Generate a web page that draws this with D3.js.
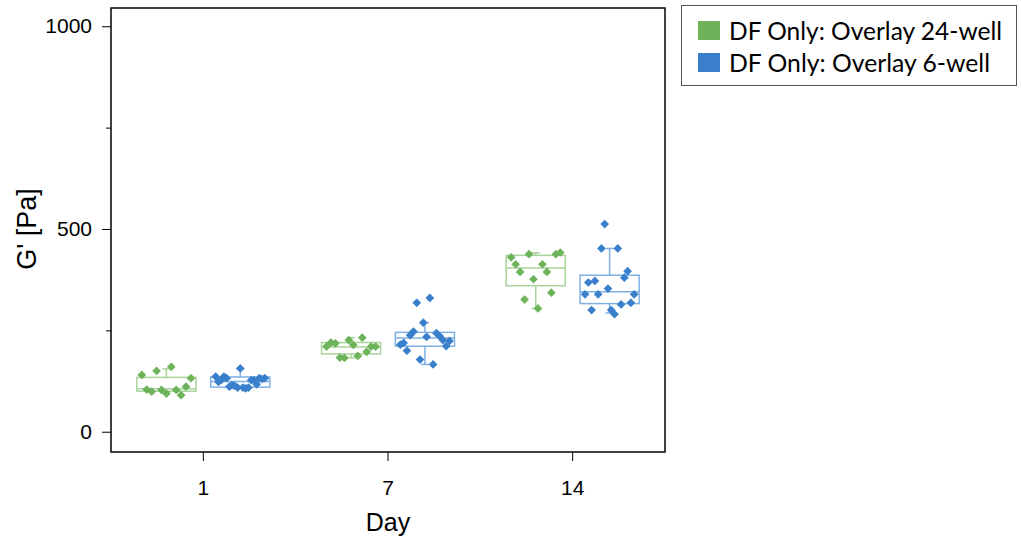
<!DOCTYPE html>
<html>
<head>
<meta charset="utf-8">
<script src="https://cdn.jsdelivr.net/npm/d3@7"></script>
<style>
  body { margin: 0; background: #fff; }
  svg { display: block; }
</style>
</head>
<body>
<div id="vis-holder"></div>
<script>
// Categories and series
const days = ["1", "7", "14"];
const series = ["DF Only: Overlay 24-well", "DF Only: Overlay 6-well"];
const yTicks = [0, 500, 1000];
const yMinorTicks = [250, 750];

// Raw points, listed left to right as they sit in each box
const points24 = [
  [140, 104, 99, 150, 103, 94, 160, 103, 90, 111, 132],
  [210, 220, 218, 183, 182, 226, 214, 187, 232, 197, 210, 210],
  [430, 413, 394, 326, 438, 376, 304, 413, 394, 343, 438, 442]
];
const points6 = [
  [136, 123, 127, 136, 132, 111, 115, 113, 109, 156, 109, 107, 109, 127, 127, 117, 132, 130, 132],
  [215, 219, 200, 238, 247, 318, 178, 269, 234, 330, 166, 243, 236, 226, 211, 224],
  [339, 368, 300, 372, 339, 452, 512, 353, 300, 290, 452, 314, 380, 396, 318, 339]
];

// Box stats: [whisker low, q1, median, q3, whisker high]
const box24 = [
  [99, 100, 106, 134, 155],
  [182, 192, 209, 220, 232],
  [304, 360, 404, 435, 441]
];
const box6 = [
  [107, 110, 124, 135, 156],
  [166, 211, 231, 245, 269],
  [293, 316, 345, 386, 452]
];

const colors = ["#6db35a", "#3a7fcb"];
const boxColors = ["#a9d49b", "#7eb0e2"];

const width = 1021, height = 542;
const margin = { top: 8, right: 356, bottom: 90, left: 111 };

const svg = d3.select("#vis-holder")
  .append("svg")
  .attr("width", width)
  .attr("height", height);

// Scales
const x0 = d3.scaleBand()
  .domain(days)
  .range([margin.left, width - margin.right]);

const x1 = d3.scaleBand()
  .domain(series)
  .range([x0.bandwidth() * 0.14, x0.bandwidth() * 0.86])
  .paddingInner(0.2);

const y = d3.scaleLinear()
  .domain([-50, 1045])
  .range([height - margin.bottom, margin.top]);

const axisFont = "Liberation Sans, Arial, sans-serif";

// y axis major ticks
svg.append("g")
  .attr("transform", `translate(${margin.left},0)`)
  .call(d3.axisLeft(y).tickValues(yTicks).tickFormat(d3.format("d")).tickSize(9).tickPadding(10))
  .call(g => g.select(".domain").remove())
  .call(g => g.selectAll("line").attr("stroke", "#000").attr("stroke-width", 1))
  .call(g => g.selectAll("text").style("font-family", axisFont).attr("font-size", 21).attr("fill", "#000"));

// y axis minor ticks
svg.append("g")
  .attr("transform", `translate(${margin.left},0)`)
  .call(d3.axisLeft(y).tickValues(yMinorTicks).tickSize(5).tickFormat(""))
  .call(g => g.select(".domain").remove())
  .call(g => g.selectAll("line").attr("stroke", "#000").attr("stroke-width", 1));

// x axis
svg.append("g")
  .attr("transform", `translate(0,${height - margin.bottom})`)
  .call(d3.axisBottom(x0).tickSize(9).tickPadding(19))
  .call(g => g.select(".domain").remove())
  .call(g => g.selectAll("line").attr("stroke", "#000").attr("stroke-width", 1))
  .call(g => g.selectAll("text").style("font-family", axisFont).attr("font-size", 21).attr("fill", "#000"));

// Frame
svg.append("rect")
  .attr("x", margin.left)
  .attr("y", margin.top)
  .attr("width", width - margin.right - margin.left)
  .attr("height", height - margin.bottom - margin.top)
  .attr("fill", "none")
  .attr("stroke", "#000")
  .attr("stroke-width", 1.5);

// Axis titles
svg.append("text")
  .attr("x", (margin.left + width - margin.right) / 2)
  .attr("y", 531)
  .attr("text-anchor", "middle")
  .style("font-family", axisFont)
  .attr("font-size", 25)
  .text("Day");

svg.append("text")
  .attr("transform", `translate(36,${y(500)}) rotate(-90)`)
  .attr("text-anchor", "middle")
  .style("font-family", axisFont)
  .attr("font-size", 27)
  .text("G' [Pa]");

// Boxes and points
const groups = [
  { name: series[0], pts: points24, box: box24, color: colors[0], boxColor: boxColors[0] },
  { name: series[1], pts: points6, box: box6, color: colors[1], boxColor: boxColors[1] }
];

const marker = d3.symbol().type(d3.symbolSquare).size(38);

groups.forEach((grp) => {
  days.forEach((day, i) => {
    const left = x0(day) + x1(grp.name);
    const bw = x1.bandwidth();
    const mid = left + bw / 2;
    const [lo, q1, med, q3, hi] = grp.box[i];
    const g = svg.append("g");

    // whiskers
    g.append("line")
      .attr("x1", mid).attr("x2", mid)
      .attr("y1", y(q3)).attr("y2", y(hi))
      .attr("stroke", grp.boxColor).attr("stroke-width", 1.5);
    g.append("line")
      .attr("x1", mid).attr("x2", mid)
      .attr("y1", y(q1)).attr("y2", y(lo))
      .attr("stroke", grp.boxColor).attr("stroke-width", 1.5);
    [lo, hi].forEach(v => {
      g.append("line")
        .attr("x1", mid - 4).attr("x2", mid + 4)
        .attr("y1", y(v)).attr("y2", y(v))
        .attr("stroke", grp.boxColor).attr("stroke-width", 1.5);
    });

    // box
    g.append("rect")
      .attr("x", left).attr("y", y(q3))
      .attr("width", bw).attr("height", y(q1) - y(q3))
      .attr("fill", "none")
      .attr("stroke", grp.boxColor).attr("stroke-width", 1.5);
    g.append("line")
      .attr("x1", left).attr("x2", left + bw)
      .attr("y1", y(med)).attr("y2", y(med))
      .attr("stroke", grp.boxColor).attr("stroke-width", 1.5);

    // points spread across the box
    const vals = grp.pts[i];
    const px = d3.scalePoint()
      .domain(d3.range(vals.length))
      .range([left + 5, left + bw - 5]);
    g.selectAll("path")
      .data(vals)
      .enter()
      .append("path")
      .attr("d", marker)
      .attr("transform", (d, k) => `translate(${px(k)},${y(d)}) rotate(45)`)
      .attr("fill", grp.color);
  });
});

// Legend
const legend = svg.append("g");
legend.append("rect")
  .attr("x", 681.5).attr("y", 5.5)
  .attr("width", 335).attr("height", 80)
  .attr("fill", "#fff")
  .attr("stroke", "#555").attr("stroke-width", 1);

series.forEach((s, i) => {
  legend.append("rect")
    .attr("x", 698).attr("y", 21 + i * 32)
    .attr("width", 22).attr("height", 19)
    .attr("fill", colors[i]);
  legend.append("text")
    .attr("x", 729).attr("y", 40 + i * 32)
    .style("font-family", "Lato, 'Open Sans', sans-serif")
    .attr("font-size", 25)
    .attr("textLength", i === 0 ? 273 : 261)
    .attr("lengthAdjust", "spacingAndGlyphs")
    .attr("fill", "#000")
    .text(s);
});
</script>
</body>
</html>
